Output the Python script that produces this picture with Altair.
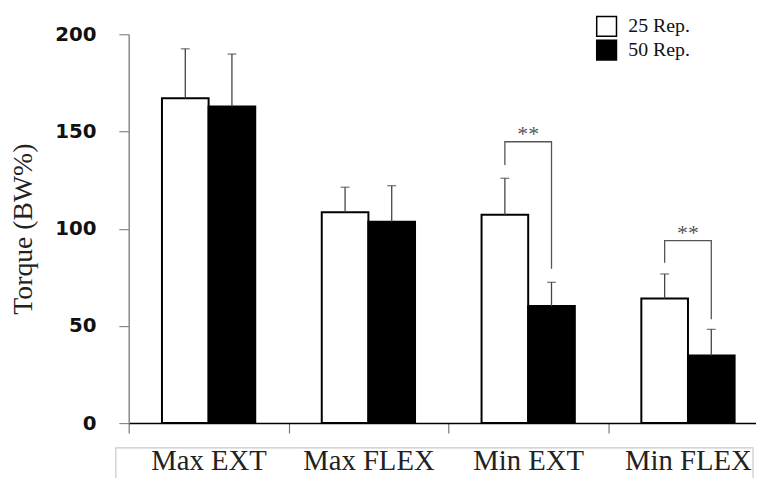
import altair as alt
import pandas as pd

categories = ["Max EXT", "Max FLEX", "Min EXT", "Min FLEX"]
groups = ["25 Rep.", "50 Rep."]
rep25_mean = [167.1, 108.4, 107.2, 64.1]
rep25_sd = [25.4, 12.9, 18.7, 12.6]
rep50_mean = [162.8, 103.5, 60.2, 34.8]
rep50_sd = [27.0, 18.6, 12.2, 13.4]

# significance brackets: category, group, value along bracket path
br_cat = ["Min EXT"] * 4 + ["Min FLEX"] * 4
br_grp = ["25 Rep.", "25 Rep.", "50 Rep.", "50 Rep."] * 2
br_val = [132.7, 144.7, 144.7, 79.4, 82.4, 93.8, 93.8, 53.4]
br_ord = [0, 1, 2, 3] * 2
star_cat = ["Min EXT", "Min FLEX"]
star_val = [150.1, 99.2]
star_txt = ["**", "**"]

rows = []
for i, c in enumerate(categories):
    rows.append({"cat": c, "grp": groups[0], "mean": rep25_mean[i], "top": rep25_mean[i] + rep25_sd[i]})
    rows.append({"cat": c, "grp": groups[1], "mean": rep50_mean[i], "top": rep50_mean[i] + rep50_sd[i]})
df = pd.DataFrame(rows)
br = pd.DataFrame({"cat": br_cat, "grp": br_grp, "val": br_val, "ord": br_ord,
                   "bid": [c for c in br_cat]})
stars = pd.DataFrame({"cat": star_cat, "val": star_val, "txt": star_txt})

xscale = alt.Scale(domain=categories, range=[0, 646], paddingInner=0, paddingOuter=0)
xoff = alt.XOffset("grp:N", scale=alt.Scale(domain=groups, paddingInner=0, paddingOuter=0.713))
yscale = alt.Scale(domain=[0, 200], nice=False, zero=True)

x_enc = alt.X("cat:N", scale=xscale, sort=categories, title=None,
              axis=alt.Axis(tickBand="extent", labelAngle=0, labelFont="Liberation Serif",
                            labelFontSize=29, labelColor="#222222", labelBaseline="alphabetic",
                            labelPadding=37, tickSize=10, tickColor="#777777", tickWidth=1.2,
                            domainColor="#000000", domainWidth=1.5, labelFontWeight="normal"))
y_enc = alt.Y("mean:Q", scale=yscale, title="Torque (BW%)",
              axis=alt.Axis(values=[0, 50, 100, 150, 200], labelFont="DejaVu Sans",
                            labelFontWeight="bold", labelFontSize=20, labelColor="#111111",
                            tickSize=10, tickColor="#888888", tickWidth=1.2,
                            domainColor="#888888", domainWidth=1.5, labelPadding=23,
                            titleFont="Liberation Serif", titleFontSize=28,
                            titleFontWeight="normal", titleColor="#222222", titlePadding=17,
                            grid=False))

bars = alt.Chart(df).mark_bar(stroke="black", strokeWidth=2).encode(
    x=x_enc, xOffset=xoff, y=y_enc,
    fill=alt.Fill("grp:N", scale=alt.Scale(domain=groups, range=["white", "black"]),
                  legend=alt.Legend(title=None, orient="none", legendX=472, legendY=-19,
                                    symbolType="square", symbolSize=400,
                                    symbolStrokeColor="black", symbolStrokeWidth=1.5,
                                    labelFont="Liberation Serif", labelFontSize=20,
                                    labelColor="#111111", labelOffset=11, rowPadding=-2,
                                    padding=0)),
)

err = alt.Chart(df).mark_rule(color="#444444", strokeWidth=1.3).encode(
    x=alt.X("cat:N", scale=xscale, sort=categories), xOffset=xoff,
    y=alt.Y("mean:Q", scale=yscale), y2="top:Q",
)
caps = alt.Chart(df).mark_tick(color="#444444", thickness=1.3, size=9, orient="horizontal").encode(
    x=alt.X("cat:N", scale=xscale, sort=categories), xOffset=xoff,
    y=alt.Y("top:Q", scale=yscale),
)
brackets = alt.Chart(br).mark_line(color="#555555", strokeWidth=1.3).encode(
    x=alt.X("cat:N", scale=xscale, sort=categories), xOffset=xoff,
    y=alt.Y("val:Q", scale=yscale), order="ord:Q", detail="bid:N",
)
startext = alt.Chart(stars).mark_text(font="Liberation Serif", fontSize=22, color="#555555",
                                      baseline="middle", dy=3).encode(
    x=alt.X("cat:N", scale=xscale, sort=categories),
    y=alt.Y("val:Q", scale=yscale), text="txt:N",
)
box = alt.Chart(pd.DataFrame({"a": [0]})).mark_rect(fill=None, stroke="#c8c8c8", strokeWidth=1.2).encode(
    x=alt.value(-13), x2=alt.value(631), y=alt.value(418), y2=alt.value(470),
)

chart = alt.layer(box, bars, err, caps, brackets, startext).properties(
    width=634, height=393,
    autosize=alt.AutoSizeParams(type="none"),
    padding={"left": 122, "top": 24, "right": 0, "bottom": 53},
).configure_view(stroke=None)

chart.save("out.html", embed_options={"renderer": "svg", "actions": False})
